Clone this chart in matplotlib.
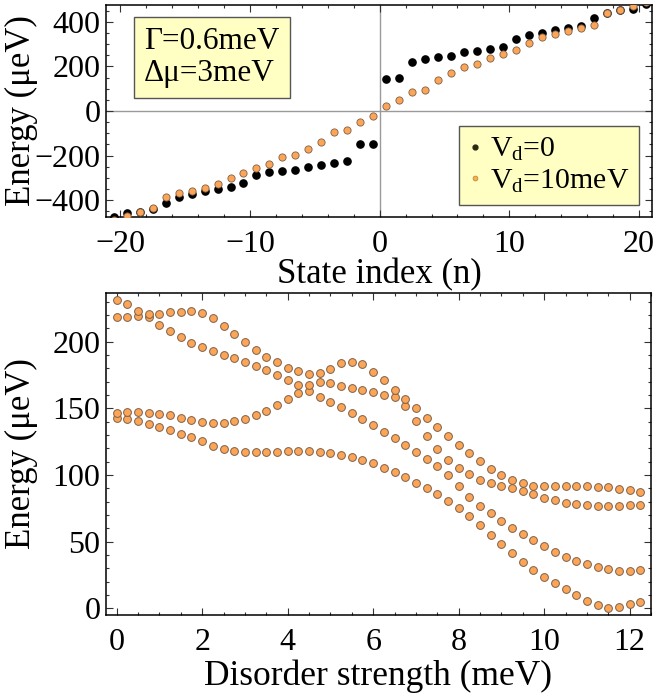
import numpy as np
import matplotlib
matplotlib.use("Agg")
import matplotlib.pyplot as plt
from matplotlib.ticker import MultipleLocator

plt.rcParams['font.family'] = ['Liberation Serif', 'DejaVu Serif']
plt.rcParams['mathtext.fontset'] = 'custom'
plt.rcParams['mathtext.rm'] = 'Liberation Serif'
plt.rcParams['mathtext.it'] = 'Liberation Serif:italic'

# top panel: spectrum vs state index
state_n = np.arange(-20.5, 21.0, 1.0)
e_vd0 = [-473, -456, -452, -438, -414, -384, -373, -360, -349, -339, -321,
         -287, -275, -269, -264, -249, -242, -234, -223, -148, -148,
         143, 149, 221, 233, 240, 248, 263, 270, 276, 288,
         323, 340, 351, 363, 373, 382, 415, 438, 452, 456, 479]
e_vd10 = [-490, -470, -451, -436, -384, -369, -357, -344, -328, -302, -276,
          -257, -237, -207, -197, -170, -137, -93, -85, -48, -22,
          22, 50, 84, 94, 139, 172, 196, 211, 239, 255,
          273, 303, 330, 344, 358, 370, 385, 438, 452, 470, 490]

# bottom panel: lowest four levels vs disorder strength
disorder = np.arange(0, 12.5, 0.25)
level1 = [143, 142, 140.7, 138.5, 136.2, 134, 131, 128.2, 125.2, 122,
          119.5, 118, 117.2, 117, 117.2, 117.2, 117.7, 117.9, 117.9, 117.2,
          116.5, 115.2, 113.5, 111, 108.7, 105.2, 102.2, 98.5, 94.2, 90.2,
          85.7, 80.7, 75.5, 69, 62.5, 55, 48.2, 41.2, 35, 28.7,
          23.7, 18.7, 14.2, 10, 5.7, 2.2, 0.5, 1.2, 3.2, 4.7]
level2 = [146.7, 147, 147, 146.5, 146, 144.7, 143, 141.2, 139.5, 139,
          139.2, 140.2, 142, 144.7, 148.2, 152.2, 156.7, 161.7, 162.7, 158.7,
          154.7, 150.7, 146.5, 142, 137.5, 132, 127.5, 122.5, 117.5, 112.2,
          106.7, 100.2, 91.7, 83.7, 76.7, 71.2, 65.5, 60.2, 55.7, 51.2,
          46.7, 42.5, 38.7, 35.7, 33, 31.2, 29.5, 28.2, 28, 28.5]
level3 = [218.7, 218.7, 219.2, 218.2, 212.7, 208, 203.2, 199.2, 196, 193,
          190.2, 187.7, 185, 181.7, 178.7, 175, 171.2, 167.5, 167.5, 169.7,
          168.7, 167, 165.2, 163.7, 162.5, 160.2, 158.2, 151.7, 140.5, 129.5,
          119.2, 111.2, 105, 101, 96.5, 94, 92, 90, 88, 85.7,
          83, 81.2, 79.2, 78, 77.2, 77, 77, 77, 77.2, 77.5]
level4 = [231.2, 228.2, 223.2, 220.5, 220.7, 222, 222.5, 223, 221.5, 217.5,
          212, 205.5, 199.5, 193.5, 188.5, 184.5, 180.5, 178, 175.7, 176.2,
          179.7, 183.7, 184.7, 183, 177.5, 171, 163.7, 156.7, 150.2, 143,
          136.2, 129.2, 122.5, 116.2, 110.5, 104.7, 100, 96.2, 93.7, 92,
          91.7, 91.7, 91.7, 91.7, 91.5, 91.2, 90.7, 89.7, 88.7, 87.5]

orange = '#fca557'
orange_edge = '#7d6048'
box_yellow = '#ffffc4'

fig = plt.figure(figsize=(6.55, 6.94), dpi=100)
ax1 = fig.add_axes([106 / 655, 1 - 217 / 694, 546 / 655, 212 / 694])
ax2 = fig.add_axes([106 / 655, 1 - 615 / 694, 545 / 655, 322 / 694])

# ---- top panel
ax1.axhline(0, color='#9a9a9a', lw=1, zorder=1)
ax1.axvline(0, color='#9a9a9a', lw=1, zorder=1)
ax1.plot(state_n, e_vd0, 'o', ls='none', ms=5.2, color='black', mec='black', zorder=3)
ax1.plot(state_n, e_vd10, 'o', ls='none', ms=5.2, color=orange, mec=orange_edge,
         mew=0.6, zorder=4)
ax1.set_xlim(-21.1, 21.0)
ax1.set_ylim(-475, 475)
ax1.xaxis.set_major_locator(MultipleLocator(10))
ax1.xaxis.set_minor_locator(MultipleLocator(2))
ax1.yaxis.set_major_locator(MultipleLocator(200))
ax1.yaxis.set_minor_locator(MultipleLocator(50))
ax1.set_xlabel('State index (n)', fontsize=25, labelpad=0)
ax1.set_ylabel('Energy (μeV)', fontsize=25)

ax1.text(0.07, 0.895, 'Γ=0.6meV\nΔμ=3meV', transform=ax1.transAxes, fontsize=22.5,
         ha='left', va='top', linespacing=1.12,
         bbox=dict(boxstyle='square,pad=0.33', fc=box_yellow, ec='#555555', lw=1))

ax1.plot([], [], 'o', ls='none', ms=3.5, color='#2a2a10', label='V$_\\mathrm{d}$=0')
ax1.plot([], [], 'o', ls='none', ms=3.5, color='#fcb040', mec='#b08040', mew=0.5,
         label='V$_\\mathrm{d}$=10meV')
leg = ax1.legend(loc='lower right', bbox_to_anchor=(0.976, 0.057), fontsize=21.5,
                 frameon=True, fancybox=False, handlelength=0.4, handletextpad=0.3,
                 borderpad=0.33, labelspacing=0.15, borderaxespad=0)
leg.get_frame().set_facecolor(box_yellow)
leg.get_frame().set_edgecolor('#555555')
leg.get_frame().set_linewidth(1)
leg.get_frame().set_alpha(1)

# ---- bottom panel
for lev in (level1, level2, level3, level4):
    ax2.plot(disorder, lev, 'o', ls='none', ms=5.6, color=orange, mec=orange_edge,
             mew=0.7, clip_on=False)
ax2.set_xlim(-0.25, 12.5)
ax2.set_ylim(-5, 236.5)
ax2.xaxis.set_major_locator(MultipleLocator(2))
ax2.xaxis.set_minor_locator(MultipleLocator(0.5))
ax2.yaxis.set_major_locator(MultipleLocator(50))
ax2.yaxis.set_minor_locator(MultipleLocator(10))
ax2.set_xlabel('Disorder strength (meV)', fontsize=25.5, labelpad=2)
ax2.set_ylabel('Energy (μeV)', fontsize=25)

for ax in (ax1, ax2):
    ax.tick_params(which='both', direction='in', top=True, right=True,
                   labelsize=23, width=0.8, color='#333333')
    ax.tick_params(axis='x', pad=9)
    ax.tick_params(axis='y', pad=4)
    ax.tick_params(which='major', length=5)
    ax.tick_params(which='minor', length=2.5)
    for sp in ax.spines.values():
        sp.set_linewidth(1.1)

ax1.yaxis.set_label_coords(-0.125, 0.5)
ax2.yaxis.set_label_coords(-0.125, 0.5)

fig.savefig('out.png', dpi=100)
